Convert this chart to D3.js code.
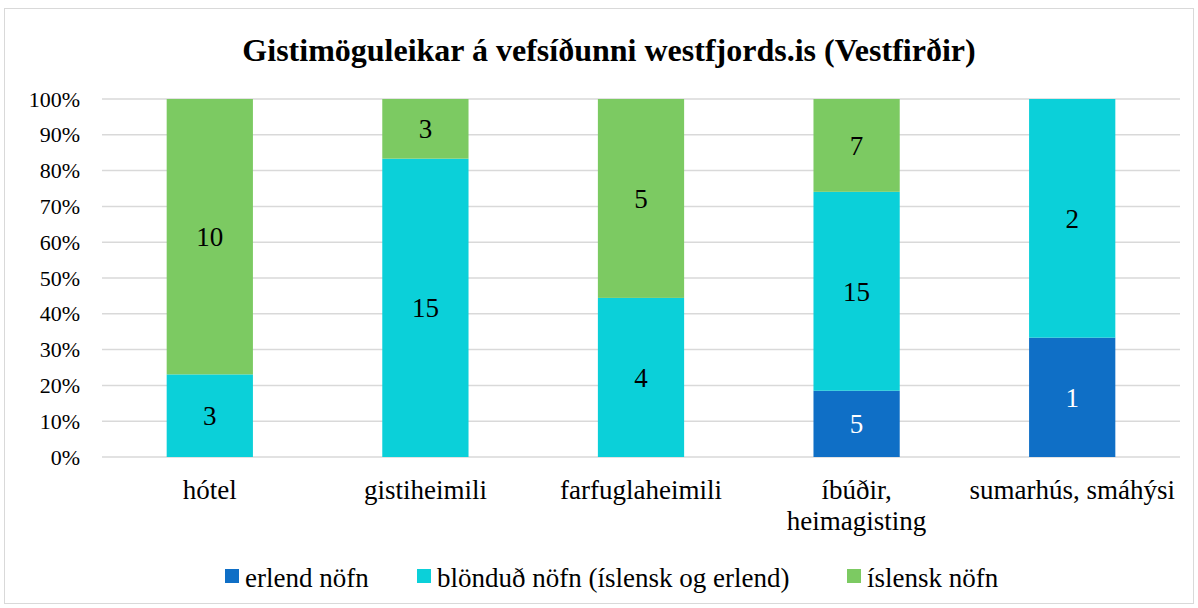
<!DOCTYPE html>
<html>
<head>
<meta charset="utf-8">
<script src="https://cdn.jsdelivr.net/npm/d3@7"></script>
<style>
  body { margin: 0; background: #fff; }
  text { font-family: "Liberation Serif", "Times New Roman", serif; fill: #000; }
</style>
</head>
<body>
<div id="chart"></div>
<script>
var categories = ["hótel", "gistiheimili", "farfuglaheimili", "íbúðir, heimagisting", "sumarhús, smáhýsi"];
var categoryLines = [["hótel"], ["gistiheimili"], ["farfuglaheimili"], ["íbúðir,", "heimagisting"], ["sumarhús, smáhýsi"]];
var seriesNames = ["erlend nöfn", "blönduð nöfn (íslensk og erlend)", "íslensk nöfn"];
var erlend = [0, 0, 0, 5, 1];
var blondud = [3, 15, 4, 15, 2];
var islensk = [10, 3, 5, 7, 0];
var yTicks = [0, 0.1, 0.2, 0.3, 0.4, 0.5, 0.6, 0.7, 0.8, 0.9, 1];

var colors = ["#0F6FC6", "#0BD0D9", "#7CCA62"];
var labelColors = ["#fff", "#000", "#000"];

var W = 1198, H = 608;
var svg = d3.select("#chart").append("svg")
    .attr("width", W)
    .attr("height", H);

// chart border
svg.append("rect")
    .attr("x", 4.5).attr("y", 8.5)
    .attr("width", W - 9).attr("height", H - 13)
    .attr("fill", "#fff")
    .attr("stroke", "#d9d9d9");

var plot = { left: 102, right: 1180, top: 99, bottom: 457 };

var x = d3.scaleBand()
    .domain(categories)
    .range([plot.left, plot.right])
    .paddingInner(0.6)
    .paddingOuter(0.3);

var y = d3.scaleLinear()
    .domain([0, 1])
    .range([plot.bottom, plot.top]);

// title
svg.append("text")
    .attr("x", W / 2 + 10).attr("y", 61)
    .attr("text-anchor", "middle")
    .style("font-size", "32px")
    .style("font-weight", "bold")
    .text("Gistimöguleikar á vefsíðunni westfjords.is (Vestfirðir)");

// gridlines
svg.append("g").selectAll("line")
    .data(yTicks)
    .join("line")
    .attr("x1", plot.left).attr("x2", plot.right)
    .attr("y1", d => y(d)).attr("y2", d => y(d))
    .attr("stroke", "#d9d9d9")
    .attr("stroke-width", 1.5);

// y axis labels
var yAxis = svg.append("g")
    .attr("transform", "translate(" + (plot.left - 22) + ",0)")
    .call(d3.axisLeft(y).tickValues(yTicks).tickFormat(d3.format(".0%")).tickSize(0));
yAxis.select(".domain").remove();
yAxis.selectAll("text")
    .attr("x", 0)
    .style("font-size", "22px")
    .style("font-family", "Liberation Serif, serif")
    .attr("fill", "#000");

// stacked percentages
var table = categories.map(function (c, i) {
    return { cat: c, s0: erlend[i], s1: blondud[i], s2: islensk[i] };
});
var stack = d3.stack().keys(["s0", "s1", "s2"]).offset(d3.stackOffsetExpand);
var layers = stack(table);

var g = svg.append("g").selectAll("g")
    .data(layers)
    .join("g")
    .attr("fill", (d, i) => colors[i]);

g.selectAll("rect")
    .data(d => d)
    .join("rect")
    .attr("x", d => x(d.data.cat))
    .attr("width", x.bandwidth())
    .attr("y", d => y(d[1]))
    .attr("height", d => y(d[0]) - y(d[1]));

// data labels
layers.forEach(function (layer, li) {
    svg.append("g").selectAll("text")
        .data(layer.filter(d => d.data[layer.key] > 0))
        .join("text")
        .attr("x", d => x(d.data.cat) + x.bandwidth() / 2)
        .attr("y", d => (y(d[0]) + y(d[1])) / 2)
        .attr("dy", "0.35em")
        .attr("text-anchor", "middle")
        .style("font-size", "27px")
        .style("fill", labelColors[li])
        .text(d => d.data[layer.key]);
});

// category labels
var cl = svg.append("g").selectAll("text")
    .data(categories)
    .join("text")
    .attr("x", d => x(d) + x.bandwidth() / 2)
    .attr("y", 499)
    .attr("text-anchor", "middle")
    .style("font-size", "27px");
cl.each(function (d, i) {
    var t = d3.select(this);
    categoryLines[i].forEach(function (line, k) {
        t.append("tspan")
            .attr("x", x(d) + x.bandwidth() / 2)
            .attr("dy", k === 0 ? 0 : 31)
            .text(line);
    });
});

// legend
var legendX = [225, 417, 847];
var legend = svg.append("g").selectAll("g")
    .data(seriesNames)
    .join("g")
    .attr("transform", (d, i) => "translate(" + legendX[i] + ",569)");
legend.append("rect")
    .attr("width", 14).attr("height", 14)
    .attr("fill", (d, i) => colors[i]);
legend.append("text")
    .attr("x", 20).attr("y", 18)
    .style("font-size", "27px")
    .text(d => d);
</script>
</body>
</html>
